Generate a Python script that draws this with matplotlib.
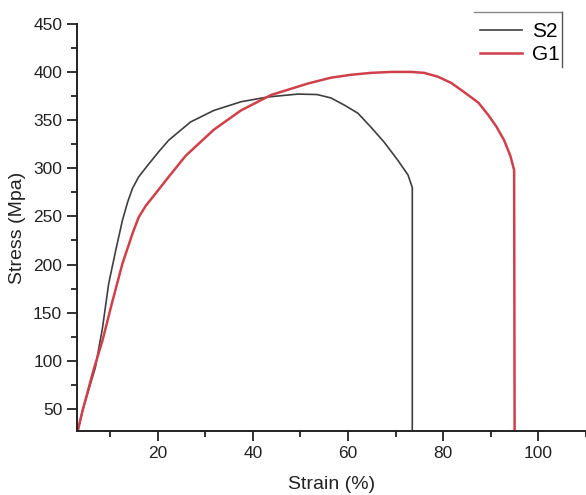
import matplotlib.pyplot as plt
from matplotlib.lines import Line2D
from matplotlib.ticker import MultipleLocator

plt.rcParams['font.family'] = ['Liberation Sans', 'DejaVu Sans']

# datos
s2_strain = [3.2, 4.2, 6.9, 8.4, 9.7, 11.2, 12.6, 13.7, 14.7, 16.0, 17.9, 20.2, 22.3,
             26.9, 31.8, 37.5, 43.2, 49.5, 53.5, 56.4, 59.2, 62.1, 64.8, 67.6, 70.5,
             72.6, 73.5, 73.5]
s2_stress = [27, 48, 93, 134, 180, 215, 246, 265, 279, 291, 303, 317, 329,
             348, 360, 369, 374, 377, 376.5, 373, 365.6, 357, 342.7, 327, 308,
             293, 280, 27]

g1_strain = [3.2, 4.2, 6.5, 8.4, 10.5, 12.6, 14.7, 16.0, 17.5, 19.6, 22.3, 25.9,
             31.8, 37.5, 43.8, 51.6, 56.4, 60.6, 64.8, 69.1, 73.3, 76.0, 78.9,
             81.7, 84.4, 87.4, 89.5, 91.2, 92.8, 94.1, 94.9, 95.0]
g1_stress = [27, 48, 90, 121, 162, 201, 232, 249, 261, 274, 291, 313,
             340, 360, 376, 388, 394, 397, 399, 400, 400, 399, 395,
             388.5, 379, 368, 355, 343, 329, 313, 298, 27]

fig = plt.figure(figsize=(5.86, 4.95), dpi=100)
ax = fig.add_axes([0.131, 0.129, 0.869, 0.823])

ax.plot(s2_strain, s2_stress, color='#3f3f3f', lw=1.2, label='S2')
ax.plot(g1_strain, g1_stress, color='#d0404a', lw=1.8, label='G1')

ax.set_xlim(3, 110)
ax.set_ylim(27, 450)
ax.xaxis.set_major_locator(MultipleLocator(20))
ax.xaxis.set_minor_locator(MultipleLocator(10))
ax.yaxis.set_major_locator(MultipleLocator(50))
ax.yaxis.set_minor_locator(MultipleLocator(25))
ax.tick_params(which='major', length=7, width=1.3, labelsize=12.5, colors='#222222')
ax.tick_params(which='minor', length=4, width=1.3, colors='#222222')

for s in ['top', 'right']:
    ax.spines[s].set_visible(False)
for s in ['left', 'bottom']:
    ax.spines[s].set_linewidth(1.4)
    ax.spines[s].set_color('#222222')

ax.set_xlabel('Strain (%)', fontsize=14, color='#222222', labelpad=11)
ax.set_ylabel('Stress (Mpa)', fontsize=14, color='#222222', labelpad=5)

leg = ax.legend(loc='upper left', bbox_to_anchor=(0.755, 1.05), frameon=False,
                fontsize=15, handlelength=2.0, handletextpad=0.5, labelspacing=0.2)

# marco parcial de la leyenda
fig.add_artist(Line2D([474 / 586, 562 / 586], [1 - 12 / 495, 1 - 12 / 495],
                      color='#888888', lw=1.0))
fig.add_artist(Line2D([562 / 586, 562 / 586], [1 - 12 / 495, 1 - 67 / 495],
                      color='#555555', lw=1.0))

fig.savefig('out.png', dpi=100)
